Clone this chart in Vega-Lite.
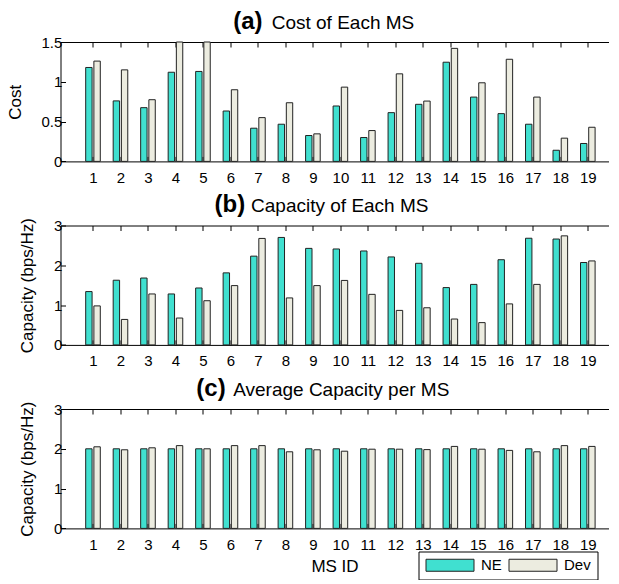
{
  "$schema": "https://vega.github.io/schema/vega-lite/v6.json",
  "padding": {"left": 5.5, "top": 9, "right": 0, "bottom": 0},
  "background": "white",
  "bounds": "flush",
  "spacing": 63.5,
  "config": {
    "font": "Liberation Sans",
    "view": {"stroke": null},
    "axis": {
      "grid": false,
      "domain": true,
      "domainColor": "#000",
      "domainWidth": 1,
      "labelFont": "Liberation Sans",
      "labelFontSize": 15,
      "labelColor": "#000",
      "titleFont": "Liberation Sans",
      "titleFontSize": 17,
      "titleFontWeight": "normal",
      "titleColor": "#000",
      "tickColor": "#000",
      "tickSize": -5
    },
    "axisY": {"titlePadding": 16.5, "labelPadding": 3.7},
    "axisX": {"labelPadding": 14}
  },
  "datasets": {
    "ms": [
      {"ms": 1, "scheme": "NE", "cost": 1.18, "cap": 1.34, "avg": 2.0},
      {"ms": 1, "scheme": "Dev", "cost": 1.26, "cap": 0.98, "avg": 2.05},
      {"ms": 2, "scheme": "NE", "cost": 0.76, "cap": 1.625, "avg": 2.0},
      {"ms": 2, "scheme": "Dev", "cost": 1.15, "cap": 0.64, "avg": 1.975},
      {"ms": 3, "scheme": "NE", "cost": 0.675, "cap": 1.68, "avg": 2.0},
      {"ms": 3, "scheme": "Dev", "cost": 0.775, "cap": 1.28, "avg": 2.025},
      {"ms": 4, "scheme": "NE", "cost": 1.12, "cap": 1.28, "avg": 2.0},
      {"ms": 4, "scheme": "Dev", "cost": 1.5, "cap": 0.675, "avg": 2.08},
      {"ms": 5, "scheme": "NE", "cost": 1.13, "cap": 1.43, "avg": 2.0},
      {"ms": 5, "scheme": "Dev", "cost": 1.5, "cap": 1.11, "avg": 2.0},
      {"ms": 6, "scheme": "NE", "cost": 0.633, "cap": 1.81, "avg": 2.0},
      {"ms": 6, "scheme": "Dev", "cost": 0.9, "cap": 1.49, "avg": 2.08},
      {"ms": 7, "scheme": "NE", "cost": 0.417, "cap": 2.23, "avg": 2.0},
      {"ms": 7, "scheme": "Dev", "cost": 0.55, "cap": 2.675, "avg": 2.08},
      {"ms": 8, "scheme": "NE", "cost": 0.467, "cap": 2.7, "avg": 2.0},
      {"ms": 8, "scheme": "Dev", "cost": 0.737, "cap": 1.18, "avg": 1.925},
      {"ms": 9, "scheme": "NE", "cost": 0.325, "cap": 2.425, "avg": 2.0},
      {"ms": 9, "scheme": "Dev", "cost": 0.346, "cap": 1.49, "avg": 1.975},
      {"ms": 10, "scheme": "NE", "cost": 0.696, "cap": 2.41, "avg": 2.0},
      {"ms": 10, "scheme": "Dev", "cost": 0.933, "cap": 1.62, "avg": 1.94},
      {"ms": 11, "scheme": "NE", "cost": 0.3, "cap": 2.36, "avg": 2.0},
      {"ms": 11, "scheme": "Dev", "cost": 0.3875, "cap": 1.27, "avg": 1.99},
      {"ms": 12, "scheme": "NE", "cost": 0.6125, "cap": 2.21, "avg": 2.0},
      {"ms": 12, "scheme": "Dev", "cost": 1.1, "cap": 0.867, "avg": 1.99},
      {"ms": 13, "scheme": "NE", "cost": 0.717, "cap": 2.05, "avg": 2.0},
      {"ms": 13, "scheme": "Dev", "cost": 0.758, "cap": 0.933, "avg": 1.98},
      {"ms": 14, "scheme": "NE", "cost": 1.246, "cap": 1.44, "avg": 2.0},
      {"ms": 14, "scheme": "Dev", "cost": 1.42, "cap": 0.65, "avg": 2.06},
      {"ms": 15, "scheme": "NE", "cost": 0.808, "cap": 1.52, "avg": 2.0},
      {"ms": 15, "scheme": "Dev", "cost": 0.9875, "cap": 0.56, "avg": 1.99},
      {"ms": 16, "scheme": "NE", "cost": 0.6, "cap": 2.14, "avg": 2.0},
      {"ms": 16, "scheme": "Dev", "cost": 1.283, "cap": 1.03, "avg": 1.96},
      {"ms": 17, "scheme": "NE", "cost": 0.467, "cap": 2.68, "avg": 2.0},
      {"ms": 17, "scheme": "Dev", "cost": 0.808, "cap": 1.52, "avg": 1.925},
      {"ms": 18, "scheme": "NE", "cost": 0.14, "cap": 2.66, "avg": 2.0},
      {"ms": 18, "scheme": "Dev", "cost": 0.292, "cap": 2.74, "avg": 2.08},
      {"ms": 19, "scheme": "NE", "cost": 0.225, "cap": 2.07, "avg": 2.0},
      {"ms": 19, "scheme": "Dev", "cost": 0.429, "cap": 2.11, "avg": 2.06}
    ]
  },
  "resolve": {"scale": {"color": "shared"}, "legend": {"color": "shared"}},
  "vconcat": [
    {
      "width": 548,
      "height": 119.4,
      "data": {"name": "ms"},
      "layer": [
        {
          "transform": [{"filter": "datum.scheme === 'NE'"}],
          "mark": {"type": "bar", "width": 6.4, "xOffset": -4.1, "stroke": "#222", "strokeWidth": 1, "opacity": 1},
          "encoding": {
            "x": {"field": "ms", "type": "quantitative", "scale": {"domain": [0, 19.571], "nice": false, "zero": false},
                  "axis": {"values": [1,2,3,4,5,6,7,8,9,10,11,12,13,14,15,16,17,18,19], "format": "d", "title": null}},
            "y": {"field": "cost", "type": "quantitative", "scale": {"domain": [0, 1.5], "nice": false},
                  "axis": {"values": [0, 0.5, 1, 1.5], "format": "~g", "title": "Cost"}},
            "color": {"field": "scheme", "type": "nominal", "scale": {"domain": ["NE", "Dev"], "range": ["#40E0D0", "#ECECE0"]}}
          }
        },
        {
          "transform": [{"filter": "datum.scheme === 'Dev'"}],
          "mark": {"type": "bar", "width": 6.4, "xOffset": 4.1, "stroke": "#222", "strokeWidth": 1, "opacity": 1},
          "encoding": {
            "x": {"field": "ms", "type": "quantitative",
                  "axis": {"orient": "top", "values": [1,2,3,4,5,6,7,8,9,10,11,12,13,14,15,16,17,18,19], "labels": false, "title": null}},
            "y": {"field": "cost", "type": "quantitative",
                  "axis": {"values": [0, 0.5, 1, 1.5], "format": "~g", "title": "Cost"}},
            "color": {"field": "scheme", "type": "nominal"}
          }
        },
        {
          "data": {"values": [{"label": "(a)"}]},
          "mark": {"type": "text", "align": "left", "baseline": "alphabetic", "dy": -13.5, "fontSize": 24, "fontWeight": "bold", "color": "#000"},
          "encoding": {
            "x": {"datum": 6.1, "type": "quantitative", "axis": null},
            "y": {"datum": 1.5, "type": "quantitative", "axis": {"values": [0, 0.5, 1, 1.5], "format": "~g", "title": "Cost"}},
            "text": {"field": "label"}
          }
        },
        {
          "data": {"values": [{"label": "Cost of Each MS"}]},
          "mark": {"type": "text", "align": "left", "baseline": "alphabetic", "dy": -13.5, "fontSize": 19, "color": "#000"},
          "encoding": {
            "x": {"datum": 7.5, "type": "quantitative", "axis": null},
            "y": {"datum": 1.5, "type": "quantitative", "axis": {"values": [0, 0.5, 1, 1.5], "format": "~g", "title": "Cost"}},
            "text": {"field": "label"}
          }
        }
      ],
      "resolve": {"axis": {"x": "independent"}}
    },
    {
      "width": 548,
      "height": 119.4,
      "data": {"name": "ms"},
      "layer": [
        {
          "transform": [{"filter": "datum.scheme === 'NE'"}],
          "mark": {"type": "bar", "width": 6.4, "xOffset": -4.1, "stroke": "#222", "strokeWidth": 1, "opacity": 1},
          "encoding": {
            "x": {"field": "ms", "type": "quantitative", "scale": {"domain": [0, 19.571], "nice": false, "zero": false},
                  "axis": {"values": [1,2,3,4,5,6,7,8,9,10,11,12,13,14,15,16,17,18,19], "format": "d", "title": null}},
            "y": {"field": "cap", "type": "quantitative", "scale": {"domain": [0, 3], "nice": false},
                  "axis": {"values": [0, 1, 2, 3], "format": "d", "title": "Capacity (bps/Hz)"}},
            "color": {"field": "scheme", "type": "nominal"}
          }
        },
        {
          "transform": [{"filter": "datum.scheme === 'Dev'"}],
          "mark": {"type": "bar", "width": 6.4, "xOffset": 4.1, "stroke": "#222", "strokeWidth": 1, "opacity": 1},
          "encoding": {
            "x": {"field": "ms", "type": "quantitative",
                  "axis": {"orient": "top", "values": [1,2,3,4,5,6,7,8,9,10,11,12,13,14,15,16,17,18,19], "labels": false, "title": null}},
            "y": {"field": "cap", "type": "quantitative",
                  "axis": {"values": [0, 1, 2, 3], "format": "d", "title": "Capacity (bps/Hz)"}},
            "color": {"field": "scheme", "type": "nominal"}
          }
        },
        {
          "data": {"values": [{"label": "(b)"}]},
          "mark": {"type": "text", "align": "left", "baseline": "alphabetic", "dy": -13.5, "fontSize": 24, "fontWeight": "bold", "color": "#000"},
          "encoding": {
            "x": {"datum": 5.42, "type": "quantitative", "axis": null},
            "y": {"datum": 3, "type": "quantitative", "axis": {"values": [0, 1, 2, 3], "format": "d", "title": "Capacity (bps/Hz)"}},
            "text": {"field": "label"}
          }
        },
        {
          "data": {"values": [{"label": "Capacity of Each MS"}]},
          "mark": {"type": "text", "align": "left", "baseline": "alphabetic", "dy": -13.5, "fontSize": 19, "color": "#000"},
          "encoding": {
            "x": {"datum": 6.75, "type": "quantitative", "axis": null},
            "y": {"datum": 3, "type": "quantitative", "axis": {"values": [0, 1, 2, 3], "format": "d", "title": "Capacity (bps/Hz)"}},
            "text": {"field": "label"}
          }
        }
      ],
      "resolve": {"axis": {"x": "independent"}}
    },
    {
      "width": 548,
      "height": 119.4,
      "data": {"name": "ms"},
      "layer": [
        {
          "transform": [{"filter": "datum.scheme === 'NE'"}],
          "mark": {"type": "bar", "width": 6.4, "xOffset": -4.1, "stroke": "#222", "strokeWidth": 1, "opacity": 1},
          "encoding": {
            "x": {"field": "ms", "type": "quantitative", "scale": {"domain": [0, 19.571], "nice": false, "zero": false},
                  "axis": {"values": [1,2,3,4,5,6,7,8,9,10,11,12,13,14,15,16,17,18,19], "format": "d", "title": "MS ID", "titlePadding": 6}},
            "y": {"field": "avg", "type": "quantitative", "scale": {"domain": [0, 3], "nice": false},
                  "axis": {"values": [0, 1, 2, 3], "format": "d", "title": "Capacity (bps/Hz)"}},
            "color": {"field": "scheme", "type": "nominal",
                      "legend": {
                        "orient": "none", "legendX": 358, "legendY": 509.5,
                        "direction": "horizontal", "columns": 2, "title": null,
                        "symbolType": "M-1,-1L7,-1L7,1L-1,1Z", "symbolSize": 144,
                        "symbolStrokeColor": "#222", "symbolStrokeWidth": 1, "symbolOpacity": 1,
                        "labelFont": "Liberation Sans", "labelFontSize": 15, "labelColor": "#000",
                        "labelOffset": 41.5, "columnPadding": 4, "padding": 6,
                        "strokeColor": "#000", "fillColor": "#fff"
                      }}
          }
        },
        {
          "transform": [{"filter": "datum.scheme === 'Dev'"}],
          "mark": {"type": "bar", "width": 6.4, "xOffset": 4.1, "stroke": "#222", "strokeWidth": 1, "opacity": 1},
          "encoding": {
            "x": {"field": "ms", "type": "quantitative",
                  "axis": {"orient": "top", "values": [1,2,3,4,5,6,7,8,9,10,11,12,13,14,15,16,17,18,19], "labels": false, "title": null}},
            "y": {"field": "avg", "type": "quantitative",
                  "axis": {"values": [0, 1, 2, 3], "format": "d", "title": "Capacity (bps/Hz)"}},
            "color": {"field": "scheme", "type": "nominal"}
          }
        },
        {
          "data": {"values": [{"label": "(c)"}]},
          "mark": {"type": "text", "align": "left", "baseline": "alphabetic", "dy": -13.5, "fontSize": 24, "fontWeight": "bold", "color": "#000"},
          "encoding": {
            "x": {"datum": 4.76, "type": "quantitative", "axis": null},
            "y": {"datum": 3, "type": "quantitative", "axis": {"values": [0, 1, 2, 3], "format": "d", "title": "Capacity (bps/Hz)"}},
            "text": {"field": "label"}
          }
        },
        {
          "data": {"values": [{"label": "Average Capacity per MS"}]},
          "mark": {"type": "text", "align": "left", "baseline": "alphabetic", "dy": -13.5, "fontSize": 19, "color": "#000"},
          "encoding": {
            "x": {"datum": 6.1, "type": "quantitative", "axis": null},
            "y": {"datum": 3, "type": "quantitative", "axis": {"values": [0, 1, 2, 3], "format": "d", "title": "Capacity (bps/Hz)"}},
            "text": {"field": "label"}
          }
        }
      ],
      "resolve": {"axis": {"x": "independent"}}
    }
  ]
}
